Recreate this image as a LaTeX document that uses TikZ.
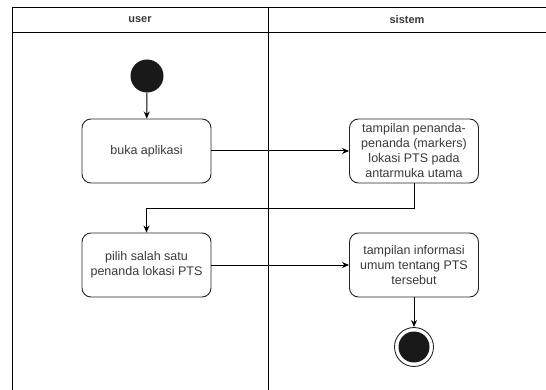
\documentclass[tikz,border=0pt]{standalone}
\usepackage{fontspec}
\setmainfont{Liberation Sans}
\usetikzlibrary{arrows.meta}
\definecolor{txt}{HTML}{3A3A3A}
\tikzset{
  act/.style={draw=black!85, line width=0.9pt, rounded corners=9pt, minimum width=129pt, minimum height=64pt, align=center, text=txt, font=\fontsize{12.5}{15}\selectfont, inner sep=1pt},
  flow/.style={draw=black, line width=1pt, -{Stealth[length=7pt,width=6pt]}},
  lane/.style={draw=black, line width=0.9pt},
  hdr/.style={font=\bfseries\fontsize{11}{13}\selectfont, text=txt}
}
\begin{document}
\begin{tikzpicture}[x=1pt,y=-1pt]
\useasboundingbox (0,0) rectangle (546,390);
\fill[white] (0,0) rectangle (546,390);
% swimlanes
\draw[lane] (12,390) -- (12,7) -- (546,7);
\draw[lane] (12,32) -- (546,32);
\draw[lane] (268,7) -- (268,390);
\node[hdr] (huser) at (140,20) {user};
\node[hdr] (hsis) at (407,20) {sistem};
% nodes
\node[circle, fill=black!90, minimum size=33pt, inner sep=0pt] (start) at (147,76) {};
\node[act] (a1) at (146.5,151) {buka aplikasi};
\node[act] (s1) at (414,151) {tampilan penanda-\\penanda (markers)\\lokasi PTS pada\\antarmuka utama};
\node[act] (a2) at (146.5,265) {pilih salah satu\\penanda lokasi PTS};
\node[act] (s2) at (414,265) {tampilan informasi\\umum tentang PTS\\tersebut};
\node[circle, draw=black!85, line width=0.9pt, minimum size=39pt, inner sep=0pt] (end) at (414,347) {};
\node[circle, fill=black!90, minimum size=31pt, inner sep=0pt] (endin) at (414,347) {};
% connectors
\draw[flow] (start) -- (a1);
\draw[flow] (a1) -- (s1);
\draw[flow] (s1.south) -- ++(0,25) -| (a2.north);
\draw[flow] (a2) -- (s2);
\draw[flow] (s2) -- (end);
\end{tikzpicture}
\end{document}
